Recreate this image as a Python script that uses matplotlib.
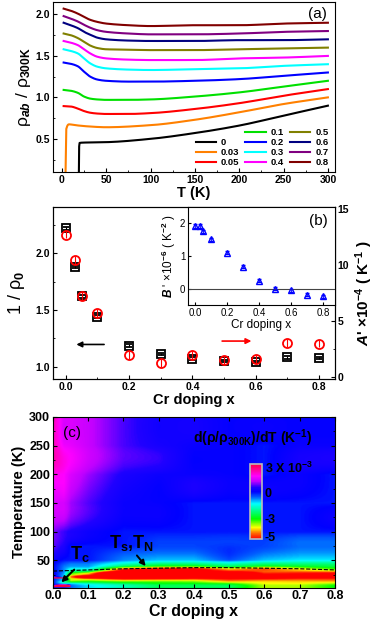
import matplotlib
matplotlib.use('Agg')
import matplotlib.pyplot as plt
import numpy as np
from matplotlib.colors import LinearSegmentedColormap
from matplotlib.lines import Line2D
from matplotlib.ticker import MultipleLocator

plt.rcParams['font.family'] = ['Liberation Sans', 'DejaVu Sans']
plt.rcParams['font.weight'] = 'bold'
plt.rcParams['axes.labelweight'] = 'bold'
plt.rcParams['mathtext.fontset'] = 'custom'
plt.rcParams['mathtext.rm'] = 'Liberation Sans'
plt.rcParams['mathtext.it'] = 'Liberation Sans:italic'
plt.rcParams['mathtext.bf'] = 'Liberation Sans:bold'
plt.rcParams['xtick.direction'] = 'in'
plt.rcParams['ytick.direction'] = 'in'

# ---- panel (a): rho_ab / rho_300K vs T, curves offset by 0.1 ----
doping = [0, 0.03, 0.05, 0.1, 0.2, 0.3, 0.4, 0.5, 0.6, 0.7, 0.8]
labels = ['0', '0.03', '0.05', '0.1', '0.2', '0.3', '0.4', '0.5', '0.6', '0.7', '0.8']
colors = ['#000000', '#FF8000', '#FF0000', '#00E000', '#0000FF', '#00FFFF',
          '#FF00FF', '#808000', '#000080', '#800080', '#800000']

T_x00 = [2, 19, 19.6, 25, 50, 100, 150, 200, 250, 300]
R_x00 = [-0.1, -0.1, 0.45, 0.455, 0.46, 0.50, 0.57, 0.66, 0.78, 0.90]
T_x03 = [2, 4, 5, 8, 15, 30, 50, 100, 150, 200, 250, 300]
R_x03 = [0.0, 0.0, 0.62, 0.675, 0.665, 0.65, 0.64, 0.665, 0.73, 0.82, 0.92, 1.0]
T_std = [2, 10, 18, 25, 32, 40, 50, 75, 100, 150, 200, 250, 300]
R_x05 = [0.895, 0.89, 0.865, 0.835, 0.815, 0.805, 0.80, 0.80, 0.81, 0.86, 0.93, 1.02, 1.10]
R_x10 = [1.09, 1.08, 1.055, 1.01, 0.985, 0.975, 0.97, 0.97, 0.975, 1.01, 1.06, 1.13, 1.20]
R_x20 = [1.42, 1.405, 1.375, 1.31, 1.25, 1.215, 1.20, 1.19, 1.19, 1.20, 1.22, 1.26, 1.30]
R_x30 = [1.58, 1.56, 1.53, 1.47, 1.41, 1.37, 1.35, 1.335, 1.33, 1.34, 1.35, 1.38, 1.40]
R_x40 = [1.68, 1.66, 1.63, 1.58, 1.53, 1.49, 1.47, 1.455, 1.45, 1.45, 1.47, 1.48, 1.50]
R_x50 = [1.77, 1.75, 1.715, 1.67, 1.625, 1.595, 1.58, 1.575, 1.57, 1.57, 1.58, 1.59, 1.60]
R_x60 = [1.90, 1.87, 1.835, 1.79, 1.755, 1.72, 1.70, 1.685, 1.68, 1.68, 1.69, 1.69, 1.70]
R_x70 = [1.98, 1.95, 1.915, 1.875, 1.84, 1.81, 1.79, 1.77, 1.76, 1.76, 1.77, 1.79, 1.80]
R_x80 = [2.07, 2.045, 2.01, 1.97, 1.935, 1.91, 1.89, 1.87, 1.86, 1.87, 1.87, 1.89, 1.90]

curves_T = [T_x00, T_x03] + [T_std] * 9
curves_R = [R_x00, R_x03, R_x05, R_x10, R_x20, R_x30, R_x40, R_x50, R_x60, R_x70, R_x80]

# ---- panel (b) ----
x_b = [0, 0.03, 0.05, 0.1, 0.2, 0.3, 0.4, 0.5, 0.6, 0.7, 0.8]
inv_rho0 = [2.22, 1.88, 1.62, 1.44, 1.185, 1.11, 1.07, 1.05, 1.04, 1.08, 1.075]
A_prime = [12.7, 10.4, 7.2, 5.7, 1.95, 1.25, 1.95, 1.5, 1.65, 3.05, 3.0]
B_prime = [1.92, 1.92, 1.76, 1.51, 1.10, 0.67, 0.24, 0.0, -0.05, -0.18, -0.23]

# ---- panel (c): T_s, T_N line ----
ts_x = [0.0, 0.1, 0.2, 0.3, 0.4, 0.5, 0.6, 0.7, 0.8]
ts_T = [31, 33, 35, 36, 37, 37, 36, 35, 33]


def pchip(x, y, xn):
    x = np.asarray(x, float)
    y = np.asarray(y, float)
    h = np.diff(x)
    d = np.diff(y) / h
    m = np.zeros_like(y)
    for k in range(1, len(x) - 1):
        if d[k - 1] * d[k] > 0:
            w1 = 2 * h[k] + h[k - 1]
            w2 = h[k] + 2 * h[k - 1]
            m[k] = (w1 + w2) / (w1 / d[k - 1] + w2 / d[k])
    m[0] = d[0]
    m[-1] = d[-1]
    i = np.clip(np.searchsorted(x, xn) - 1, 0, len(h) - 1)
    t = (xn - x[i]) / h[i]
    h00 = 2 * t**3 - 3 * t**2 + 1
    h10 = t**3 - 2 * t**2 + t
    h01 = -2 * t**3 + 3 * t**2
    h11 = t**3 - t**2
    return h00 * y[i] + h10 * h[i] * m[i] + h01 * y[i + 1] + h11 * h[i] * m[i + 1]


fig = plt.figure(figsize=(3.74, 6.26), dpi=100)

# ================= (a) =================
axa = fig.add_axes([0.1417, 0.7252, 0.754, 0.2716])
Tfine = np.linspace(2, 300, 597)
handles = [Line2D([], [], color='none')]
names = ['']
for Tc, Rc, c, lab in zip(curves_T, curves_R, colors, labels):
    Rf = pchip(Tc, Rc, Tfine)
    ln, = axa.plot(Tfine, Rf, color=c, lw=1.5)
    handles.append(ln)
    names.append(lab)
axa.set_xlim(-10, 308)
axa.set_ylim(0.1, 2.15)
axa.xaxis.set_major_locator(MultipleLocator(50))
axa.xaxis.set_minor_locator(MultipleLocator(25))
axa.yaxis.set_major_locator(MultipleLocator(0.5))
axa.yaxis.set_minor_locator(MultipleLocator(0.25))
axa.tick_params(labelsize=7.5, length=3, pad=2)
axa.tick_params(which='minor', length=1.5)
axa.set_xlabel('T (K)', fontsize=10.5, labelpad=1)
axa.set_ylabel(r'ρ$_{ab}$ / ρ$_{\mathbf{300K}}$', fontsize=12.5, fontweight='normal', labelpad=2)
axa.text(0.97, 0.97, '(a)', transform=axa.transAxes, ha='right', va='top',
         fontsize=11, fontweight='normal')
axa.legend(handles, names, ncol=3, loc='lower right', bbox_to_anchor=(1.0, -0.01),
           frameon=False, fontsize=6.8, handlelength=2.2, columnspacing=0.6,
           labelspacing=0.1, handletextpad=0.5, borderaxespad=0.3)

# ================= (b) =================
axb = fig.add_axes([0.1417, 0.3946, 0.754, 0.2748])
axb.errorbar(x_b, inv_rho0, yerr=0.012, fmt='s', mfc='none', mec='k', ecolor='k',
             ms=6, mew=1.3, capsize=2, elinewidth=0.8)
axb.set_xlim(-0.04, 0.85)
axb.set_ylim(0.89, 2.41)
axb.xaxis.set_major_locator(MultipleLocator(0.2))
axb.xaxis.set_minor_locator(MultipleLocator(0.1))
axb.yaxis.set_major_locator(MultipleLocator(0.5))
axb.yaxis.set_minor_locator(MultipleLocator(0.25))
axb.tick_params(labelsize=7.5, length=3, pad=2)
axb.tick_params(which='minor', length=1.5)
axb.set_xlabel('Cr doping x', fontsize=10.5, labelpad=1)
axb.set_ylabel(r'1 / ρ$_0$', fontsize=13, fontweight='normal', labelpad=6)

axb2 = axb.twinx()
axb2.errorbar(x_b, A_prime, yerr=0.35, fmt='o', mfc='none', mec='r', ecolor='r',
              ms=6.5, mew=1.3, capsize=0, elinewidth=0.8)
axb2.set_ylim(-0.15, 15.15)
axb2.yaxis.set_major_locator(MultipleLocator(5))
axb2.yaxis.set_minor_locator(MultipleLocator(2.5))
axb2.tick_params(labelsize=7.5, length=3, pad=2)
axb2.tick_params(which='minor', length=1.5)
axb2.set_ylabel(r"$\mathbf{\mathit{A}}$' ×10$^{\mathbf{-4}}$ ( K$^{\mathbf{-1}}$ )",
                fontsize=11)
axb2.yaxis.set_label_coords(1.065, 0.5)

axb.annotate('', xy=(0.025, 1.195), xytext=(0.13, 1.195),
             arrowprops=dict(arrowstyle='-|>', color='k', lw=1.2, mutation_scale=8))
axb.annotate('', xy=(0.595, 1.225), xytext=(0.485, 1.225),
             arrowprops=dict(arrowstyle='-|>', color='r', lw=1.2, mutation_scale=8))

# inset
axi = fig.add_axes([0.5027, 0.5128, 0.393, 0.1565])
axi.errorbar(x_b, B_prime, yerr=0.05, fmt='^', mfc='none', mec='b', ecolor='b',
             ms=4.5, mew=1.0, capsize=1.5, elinewidth=0.6)
axi.axhline(0, color='#444444', lw=0.8)
axi.set_xlim(-0.044, 0.873)
axi.set_ylim(-0.5, 2.5)
axi.xaxis.set_major_locator(MultipleLocator(0.2))
axi.yaxis.set_major_locator(MultipleLocator(1))
axi.tick_params(labelsize=7, length=2.5, pad=2)
for t in axi.get_xticklabels() + axi.get_yticklabels():
    t.set_fontweight('normal')
axi.set_xlabel('Cr doping x', fontsize=8.5, fontweight='normal', labelpad=1)
axi.set_ylabel(r"$\mathit{B}$ ' ×10$^{-6}$ ( K$^{-2}$ )", fontsize=8.5,
               fontweight='normal', labelpad=1)
axi.text(0.95, 0.93, '(b)', transform=axi.transAxes, ha='right', va='top',
         fontsize=11, fontweight='normal')

# ================= (c) =================
axc = fig.add_axes([0.1417, 0.0612, 0.754, 0.2727])
Tgrid = np.arange(2, 301, 1.0)
dR = []
for Tc, Rc in zip(curves_T, curves_R):
    Rf = pchip(Tc, Rc, Tgrid)
    dR.append(np.gradient(Rf, Tgrid))
dR = np.array(dR)  # shape (ndoping, nT)
xgrid = np.linspace(0, 0.8, 321)
field = np.array([np.interp(xgrid, doping, dR[:, j]) for j in range(len(Tgrid))])

cmap = LinearSegmentedColormap.from_list('rb', [
    (0.0, '#FF0000'), (0.08, '#FF7000'), (0.15, '#FFFF00'), (0.267, '#00FF00'),
    (0.47, '#00FFFF'), (0.56, '#0060FF'), (0.63, '#0000FF'), (0.69, '#2000FF'),
    (0.77, '#C000FF'), (0.84, '#FF00FF'), (1.0, '#FF0040')])
im = axc.imshow(field, origin='lower', aspect='auto', cmap=cmap,
                extent=[0, 0.8, 1.5, 300.5], vmin=-5.3e-3, vmax=3.3e-3,
                interpolation='bilinear')
axc.plot(ts_x, ts_T, 'k--', lw=0.8)
axc.set_xlim(0, 0.8)
axc.set_ylim(2, 300)
axc.xaxis.set_major_locator(MultipleLocator(0.1))
axc.yaxis.set_major_locator(MultipleLocator(50))
axc.yaxis.set_minor_locator(MultipleLocator(25))
axc.tick_params(labelsize=9, length=3, top=True, right=True, pad=2)
axc.tick_params(which='minor', length=1.5, right=True)
axc.set_xlabel('Cr doping x', fontsize=11.5, labelpad=1)
axc.set_ylabel('Temperature (K)', fontsize=10.5, labelpad=2)
axc.text(0.035, 0.906, '(c)', transform=axc.transAxes, ha='left', va='center',
         fontsize=11, fontweight='normal')
axc.text(0.92, 0.877, r'd(ρ/ρ$_{\mathbf{300K}}$)/dT (K$^{\mathbf{-1}}$)',
         transform=axc.transAxes, ha='right', va='center', fontsize=10)
axc.text(0.047, 60, r'$\mathbf{T_c}$', fontsize=13, va='center')
axc.annotate('', xy=(0.018, 8), xytext=(0.066, 37),
             arrowprops=dict(arrowstyle='-|>', color='k', lw=1.4, mutation_scale=8))
axc.text(0.16, 80, r'$\mathbf{T_s{,}T_N}$', fontsize=13, va='center')
axc.annotate('', xy=(0.268, 36), xytext=(0.233, 62),
             arrowprops=dict(arrowstyle='-|>', color='k', lw=1.4, mutation_scale=8))

cax = fig.add_axes([250 / 374, 1 - 539 / 626, 12 / 374, 75 / 626])
cb = fig.colorbar(im, cax=cax, ticks=[3e-3, 0, -3e-3, -5e-3])
cb.ax.set_yticklabels([r'3 X 10$^{\mathbf{-3}}$', '0', '-3', '-5'])
cb.ax.tick_params(length=0, labelsize=9, pad=2)
cb.outline.set_edgecolor('#BBBBBB')
cb.outline.set_linewidth(1.2)

fig.savefig('out.png', dpi=100)
